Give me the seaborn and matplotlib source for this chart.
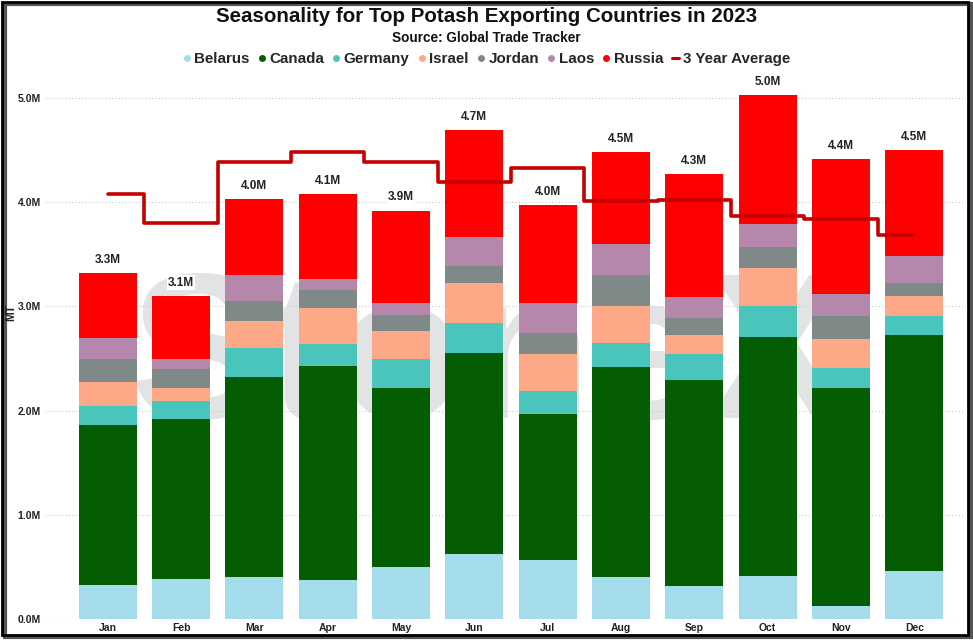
import numpy as np
import pandas as pd
import matplotlib
matplotlib.use("Agg")
import matplotlib.pyplot as plt
from matplotlib.lines import Line2D
from matplotlib.patches import Rectangle
import seaborn as sns

months = ["Jan", "Feb", "Mar", "Apr", "May", "Jun", "Jul", "Aug", "Sep", "Oct", "Nov", "Dec"]
belarus = [0.33, 0.38, 0.40, 0.37, 0.50, 0.62, 0.57, 0.40, 0.32, 0.41, 0.12, 0.46]
canada = [1.53, 1.54, 1.92, 2.06, 1.72, 1.93, 1.40, 2.02, 1.97, 2.30, 2.10, 2.27]
germany = [0.18, 0.17, 0.28, 0.21, 0.28, 0.29, 0.22, 0.23, 0.25, 0.29, 0.19, 0.18]
israel = [0.23, 0.13, 0.26, 0.34, 0.26, 0.38, 0.35, 0.35, 0.19, 0.37, 0.28, 0.19]
jordan = [0.23, 0.18, 0.19, 0.18, 0.16, 0.17, 0.20, 0.30, 0.16, 0.20, 0.22, 0.12]
laos = [0.20, 0.10, 0.25, 0.10, 0.11, 0.28, 0.29, 0.30, 0.20, 0.22, 0.21, 0.26]
russia = [0.62, 0.60, 0.73, 0.82, 0.89, 1.02, 0.94, 0.88, 1.18, 1.24, 1.29, 1.02]
avg3y = [4.08, 3.80, 4.39, 4.48, 4.39, 4.19, 4.33, 4.01, 4.02, 3.87, 3.84, 3.69]

countries = ["Belarus", "Canada", "Germany", "Israel", "Jordan", "Laos", "Russia"]
series = [belarus, canada, germany, israel, jordan, laos, russia]
colors = ["#A5DCEC", "#045C03", "#4AC5BB", "#FDA988", "#7F8988", "#B587AA", "#FF0000"]
avg_color = "#C40000"

sns.set_theme(style="white")
fam = ["Liberation Sans", "DejaVu Sans"]
plt.rcParams["font.family"] = fam

fig = plt.figure(figsize=(9.73, 6.42), dpi=100)
ax = fig.add_axes([45 / 973, 23 / 642, (965 - 45) / 973, (5.3 * 104.2) / 642])

ax.text(5.2, 2.45, "StoneX", fontsize=150, fontweight="bold", color="#E2E3E5",
        ha="center", va="center", zorder=0, family=fam)

cum = np.cumsum(np.array(series), axis=0)
for i in range(len(countries) - 1, -1, -1):
    df = pd.DataFrame({"month": months, "value": cum[i]})
    sns.barplot(data=df, x="month", y="value", color=colors[i], width=0.79,
                saturation=1, linewidth=0, ax=ax, zorder=2)

totals = cum[-1]
for xi, t in enumerate(totals):
    ax.text(xi, t + 0.07, f"{t:.1f}M", ha="center", va="bottom", fontsize=8.5,
            fontweight="bold", color="#222222", zorder=5,
            bbox=dict(facecolor="white", edgecolor="none", pad=1.0))

dfa = pd.DataFrame({"x": np.arange(12), "avg": avg3y})
sns.lineplot(data=dfa, x="x", y="avg", color=avg_color, linewidth=2.6,
             drawstyle="steps-mid", ax=ax, zorder=4, solid_capstyle="round")

ax.set_xlim(-0.5 - 26 / 73.27, 11.5 + 14 / 73.27)
ax.set_ylim(0, 5.3)
ax.set_yticks([0, 1, 2, 3, 4, 5])
ax.set_yticklabels([f"{v:.1f}M" for v in [0, 1, 2, 3, 4, 5]])
ax.yaxis.grid(True, linestyle=(0, (1, 2)), color="#C8C8C8", linewidth=0.8)
ax.set_axisbelow(True)
for s in ax.spines.values():
    s.set_visible(False)
ax.tick_params(axis="both", length=0, labelsize=7.5, pad=3, labelcolor="#222222")
for lab in ax.get_xticklabels() + ax.get_yticklabels():
    lab.set_fontweight("bold")
ax.set_xlabel("")
ax.set_ylabel("MT", fontsize=8.5, fontweight="bold", color="#222222")
ax.yaxis.set_label_coords(-0.030, 0.554)
ax.set_facecolor("white")
if ax.get_legend():
    ax.get_legend().remove()

fig.text(0.5, 1 - 17 / 642, "Seasonality for Top Potash Exporting Countries in 2023",
         ha="center", va="center", fontsize=14.8, fontweight="bold", color="#111111")
fig.text(0.5, 1 - 38 / 642, "Source: Global Trade Tracker",
         ha="center", va="center", fontsize=9.8, fontweight="bold", color="#111111")

handles = [Line2D([], [], marker="o", linestyle="none", markersize=5, color=c,
                  markeredgewidth=0) for c in colors]
handles.append(Line2D([], [], color=avg_color, linewidth=2.2))
labels = countries + ["3 Year Average"]
fig.legend(handles, labels, loc="center", bbox_to_anchor=(0.5, 1 - 59 / 642), ncol=8,
           frameon=False, handlelength=0.5, handletextpad=0.25, columnspacing=0.55,
           prop=dict(size=10.9, weight="bold"))

fig.patches.append(Rectangle((5 / 973, 5 / 642), 966 / 973, 633 / 642, transform=fig.transFigure,
                             facecolor="none", edgecolor="#555555", linewidth=3, zorder=-1))
fig.patches.append(Rectangle((2 / 973, 7 / 642), 966 / 973, 633 / 642, transform=fig.transFigure,
                             facecolor="none", edgecolor="black", linewidth=2, zorder=10))

fig.savefig("out.png", dpi=100, facecolor="white")
